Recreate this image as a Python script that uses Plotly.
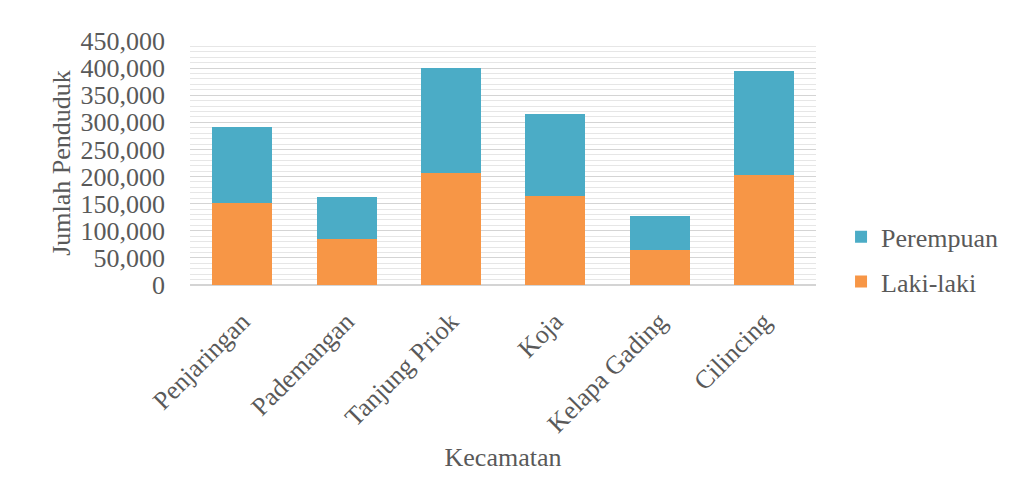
import plotly.graph_objects as go

kecamatan = ["Penjaringan", "Pademangan", "Tanjung Priok", "Koja", "Kelapa Gading", "Cilincing"]
laki_laki = [151000, 85000, 206000, 165000, 64000, 202000]
perempuan = [140000, 78000, 194000, 150000, 63000, 193000]

FONT = "Liberation Serif"
GREY = "#595959"
FS = 26

fig = go.Figure()
fig.add_trace(go.Bar(name="Laki-laki", x=kecamatan, y=laki_laki,
                     marker=dict(color="#F79646", line=dict(width=0)),
                     legendgroup="b", legendrank=2))
fig.add_trace(go.Bar(name="Perempuan", x=kecamatan, y=perempuan,
                     marker=dict(color="#4BACC6", line=dict(width=0)),
                     legendgroup="a", legendrank=1))

fig.update_layout(
    width=1014, height=499,
    margin=dict(l=182, r=206, t=33, b=222, autoexpand=False),
    barmode="stack", bargap=0.425,
    paper_bgcolor="white", plot_bgcolor="white",
    font=dict(family=FONT, size=FS, color=GREY),
    legend=dict(x=1.04, y=0.105, xanchor="left", yanchor="middle",
                traceorder="grouped", tracegroupgap=8,
                font=dict(family=FONT, size=FS, color=GREY),
                itemwidth=30),
    showlegend=True,
)
fig.update_yaxes(
    range=[0, 450000], dtick=50000, tickformat=",d",
    showgrid=True, gridcolor="#D4D4D4", gridwidth=1,
    minor=dict(dtick=10000, showgrid=True, gridcolor="#E6E6E6", gridwidth=1),
    zeroline=True, zerolinecolor="#D4D4D4",
    ticklabelstandoff=24,
    title=dict(text="Jumlah Penduduk", font=dict(family=FONT, size=FS, color=GREY), standoff=2),
    tickfont=dict(family=FONT, size=FS, color=GREY),
)
fig.update_xaxes(
    tickangle=-45, showline=True, linecolor="#D4D4D4",
    ticklabelstandoff=10,
    tickfont=dict(family=FONT, size=FS, color=GREY),
    title=dict(text="Kecamatan", font=dict(family=FONT, size=FS, color=GREY), standoff=10),
)

fig.write_html("out.html")
